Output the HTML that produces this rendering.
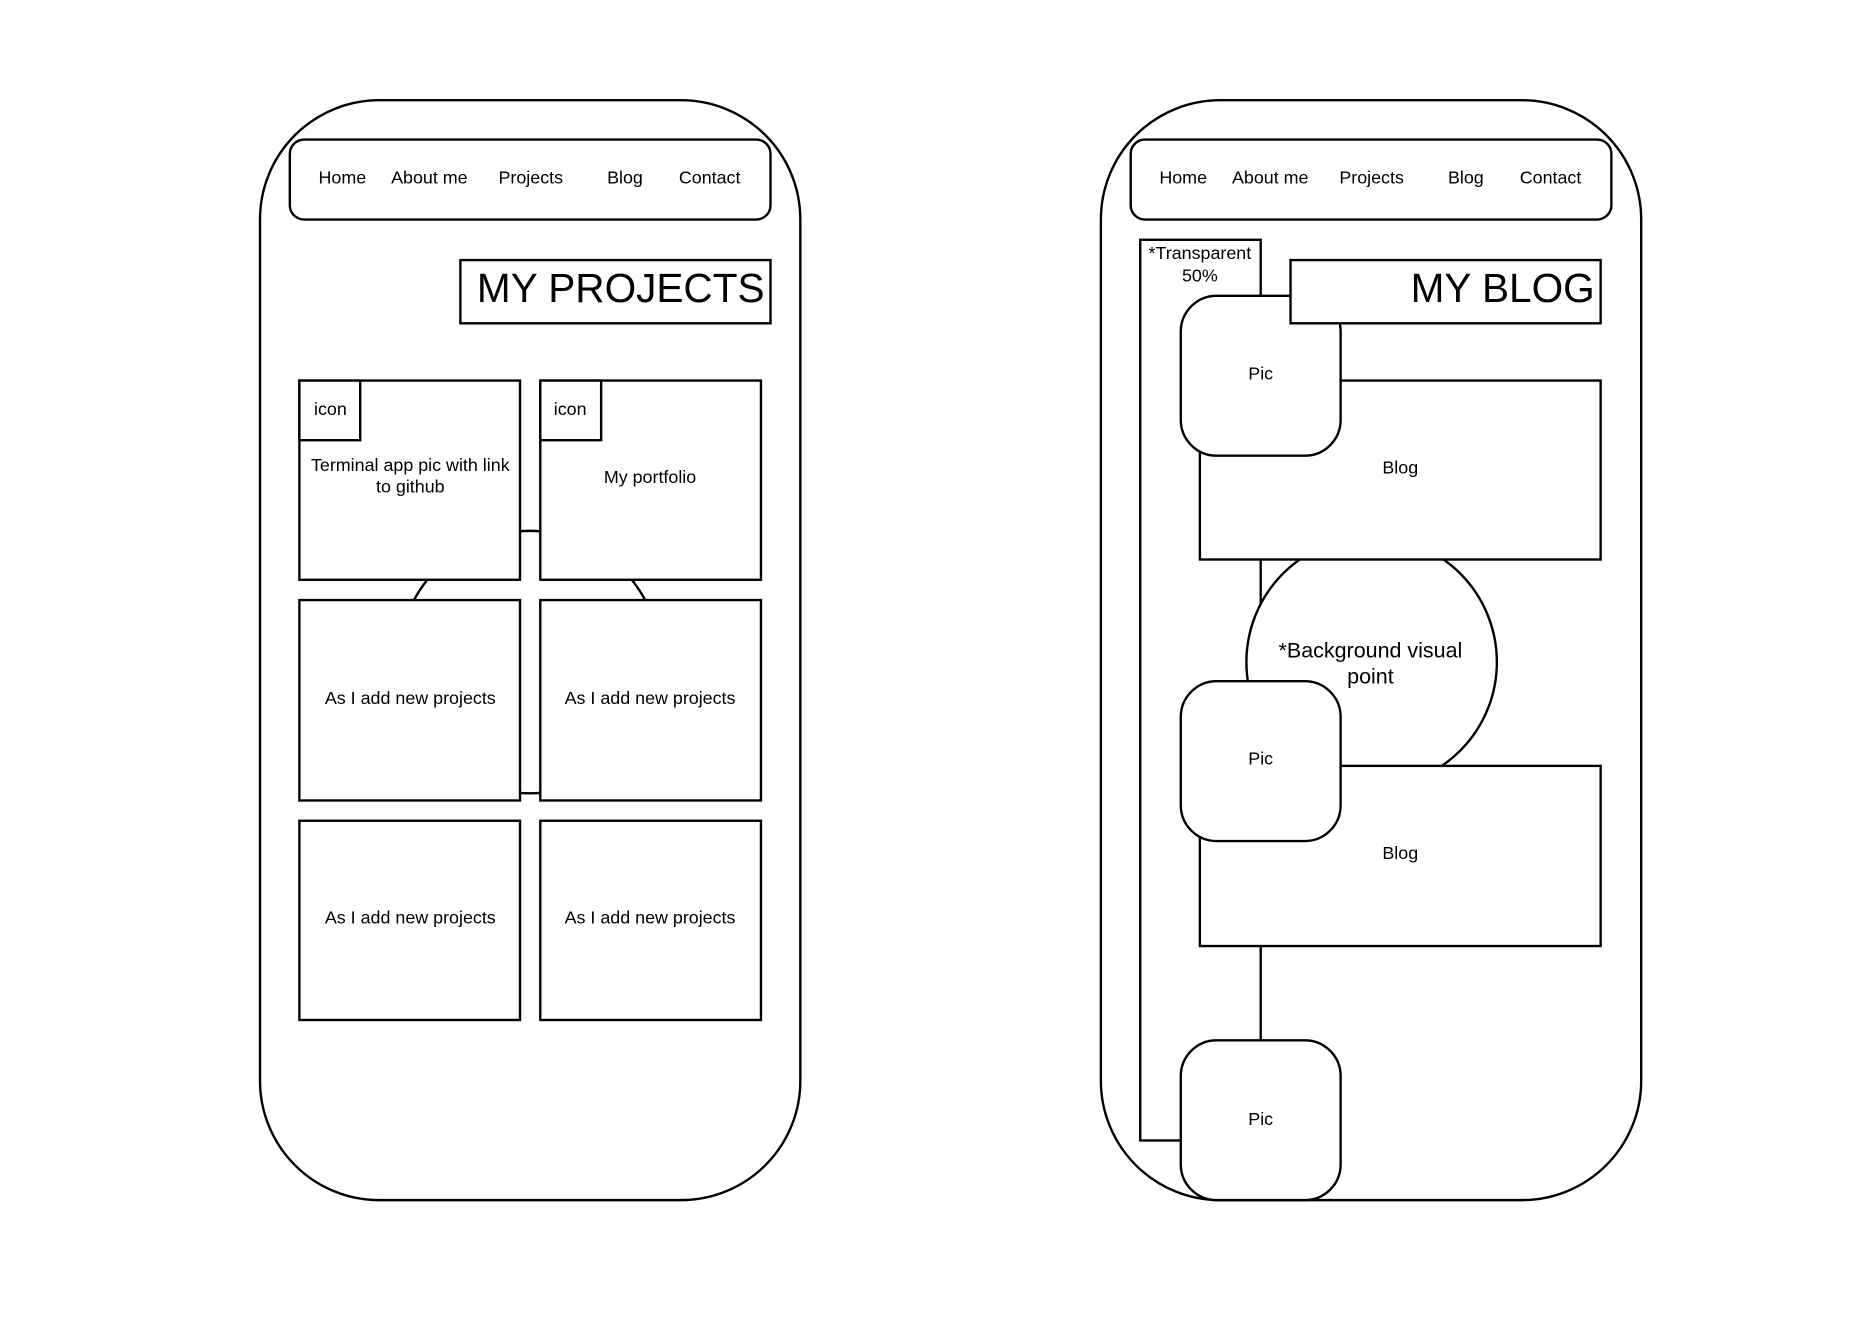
<!DOCTYPE html>
<html><head><meta charset="utf-8"><style>
html,body{margin:0;padding:0;background:#fff;}
svg{display:block;}
text{font-family:"Liberation Sans",sans-serif;fill:#000;}
</style></head><body>
<svg width="1869" height="1323" viewBox="0 0 1567 1109" preserveAspectRatio="none" xmlns="http://www.w3.org/2000/svg">
<rect x="0" y="0" width="1567" height="1109" fill="#fff"/>
<g fill="#fff" stroke="#000" stroke-width="2">
<rect x="218" y="84" width="453" height="922" rx="100"/>
<rect x="243" y="117" width="403" height="67" rx="12"/>
<rect x="386" y="218" width="260" height="53"/>
<circle cx="444" cy="555" r="110"/>
<rect x="251" y="319" width="185" height="167"/>
<rect x="453" y="319" width="185" height="167"/>
<rect x="251" y="319" width="51" height="50"/>
<rect x="453" y="319" width="51" height="50"/>
<rect x="251" y="503" width="185" height="168"/>
<rect x="453" y="503" width="185" height="168"/>
<rect x="251" y="688" width="185" height="167"/>
<rect x="453" y="688" width="185" height="167"/>
<rect x="923" y="84" width="453" height="922" rx="100"/>
<rect x="948" y="117" width="403" height="67" rx="12"/>
<rect x="956" y="201" width="101" height="755"/>
<circle cx="1150" cy="555" r="105"/>
<rect x="1006" y="319" width="336" height="150"/>
<rect x="1006" y="642" width="336" height="151"/>
<rect x="990" y="248" width="134" height="134" rx="30"/>
<rect x="990" y="571" width="134" height="134" rx="30"/>
<rect x="990" y="872" width="134" height="134" rx="30"/>
<rect x="1082" y="218" width="260" height="53"/>
</g>
<g font-size="15" text-anchor="middle">
<text x="287" y="154">Home</text><text x="360" y="154">About me</text><text x="445" y="154">Projects</text><text x="524" y="154">Blog</text><text x="595" y="154">Contact</text>
<text x="992" y="154">Home</text><text x="1065" y="154">About me</text><text x="1150" y="154">Projects</text><text x="1229" y="154">Blog</text><text x="1300" y="154">Contact</text>
<text x="277" y="348">icon</text><text x="478" y="348">icon</text>
<text x="344" y="395">Terminal app pic with link</text><text x="344" y="413">to github</text>
<text x="545" y="405">My portfolio</text>
<text x="344" y="590">As I add new projects</text><text x="545" y="590">As I add new projects</text>
<text x="344" y="774">As I add new projects</text><text x="545" y="774">As I add new projects</text>
<text x="1006" y="217">*Transparent</text><text x="1006" y="236">50%</text>
<text x="1057" y="318">Pic</text><text x="1057" y="641">Pic</text><text x="1057" y="943">Pic</text>
<text x="1174" y="397">Blog</text><text x="1174" y="720">Blog</text>
</g>
<text x="1149" y="551" font-size="18" text-anchor="middle">*Background visual</text>
<text x="1149" y="573" font-size="18" text-anchor="middle">point</text>
<text x="641" y="253" font-size="34" text-anchor="end">MY PROJECTS</text>
<text x="1337" y="253" font-size="34" text-anchor="end">MY BLOG</text>
</svg>
</body></html>
